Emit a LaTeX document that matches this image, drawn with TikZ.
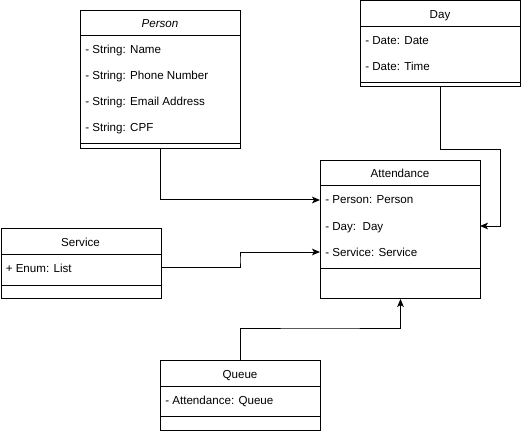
\documentclass[tikz,border=0pt]{standalone}
\usepackage{fontspec}
\setmainfont{Liberation Sans}
\usetikzlibrary{arrows.meta}

\begin{document}
\begin{tikzpicture}[
  x=0.75pt, y=-0.75pt,
  cls/.style={draw, anchor=north west, minimum width=120pt, inner sep=0pt, line width=0.75pt},
  head/.style={anchor=base, inner sep=0pt, font=\fontsize{8.7}{11}\selectfont},
  field/.style={anchor=base west, inner sep=0pt, font=\fontsize{8.7}{11}\selectfont},
  sep/.style={line width=0.75pt},
  link/.style={-{Stealth[length=6pt, width=5pt, inset=1.5pt]}, line width=0.75pt}
]
  \useasboundingbox (0,0) rectangle (521,431);

  % Person class
  \node[cls, minimum height=103.5pt] (person) at (80,10) {};
  \node[head] (personT) at (160,28) {\itshape Person};
  \draw[sep] (80,36) -- (240,36);
  \node[field] (perName) at (85,54) {- String: Name};
  \node[field] (perPhone) at (85,80) {- String: Phone Number};
  \node[field] (perMail) at (85,106) {- String: Email Address};
  \node[field] (perCpf) at (85,132) {- String: CPF};
  \draw[sep] (80,144) -- (240,144);

  % Day class
  \node[cls, minimum height=64.5pt] (day) at (360,0.5) {};
  \node[head] (dayT) at (440,18.5) {Day};
  \draw[sep] (360,26.5) -- (520,26.5);
  \node[field] (dayDate) at (365,44.5) {- Date: Date};
  \node[field] (dayTime) at (365,70.5) {- Date: Time};
  \draw[sep] (360,82.5) -- (520,82.5);

  % Attendance class
  \node[cls, minimum height=103.5pt] (att) at (320,160) {};
  \node[head] (attT) at (400,178) {Attendance};
  \draw[sep] (320,186) -- (480,186);
  \node[field] (attPerson) at (325,204) {- Person: Person};
  \node[field] (attDay) at (325,230) {- Day:\ \ Day};
  \node[field] (attService) at (325,256) {- Service: Service};
  \draw[sep] (320,268) -- (480,268);

  % Service class
  \node[cls, minimum height=52.5pt] (service) at (0.5,228) {};
  \node[head] (serviceT) at (80.5,246) {Service};
  \draw[sep] (0.5,254) -- (160.5,254);
  \node[field] (srvEnum) at (5.5,272) {+ Enum: List};
  \draw[sep] (0.5,285) -- (160.5,285);

  % Queue class
  \node[cls, minimum height=52.5pt] (queue) at (160,360) {};
  \node[head] (queueT) at (240,378) {Queue};
  \draw[sep] (160,386) -- (320,386);
  \node[field] (queueAtt) at (165,404) {- Attendance: Queue};
  \draw[sep] (160,416) -- (320,416);

  % Associations
  \coordinate (dayBend) at (500,150);
  \coordinate (perRow) at (320,200);
  \coordinate (dayRow) at (480,226);
  \coordinate (srvRow) at (320,252);
  \coordinate (srvOut) at (160.5,267);
  \coordinate (srvBend) at (240,260);
  \coordinate (queueBend) at (320,328);
  \draw[link] (person.south) |- (perRow);
  \draw[link] (day.south) |- (dayBend) |- (dayRow);
  \draw[link] (srvOut) -| (srvBend) |- (srvRow);
  \draw[link] (queue.north) |- (queueBend) -| (att.south);
\end{tikzpicture}
\end{document}
